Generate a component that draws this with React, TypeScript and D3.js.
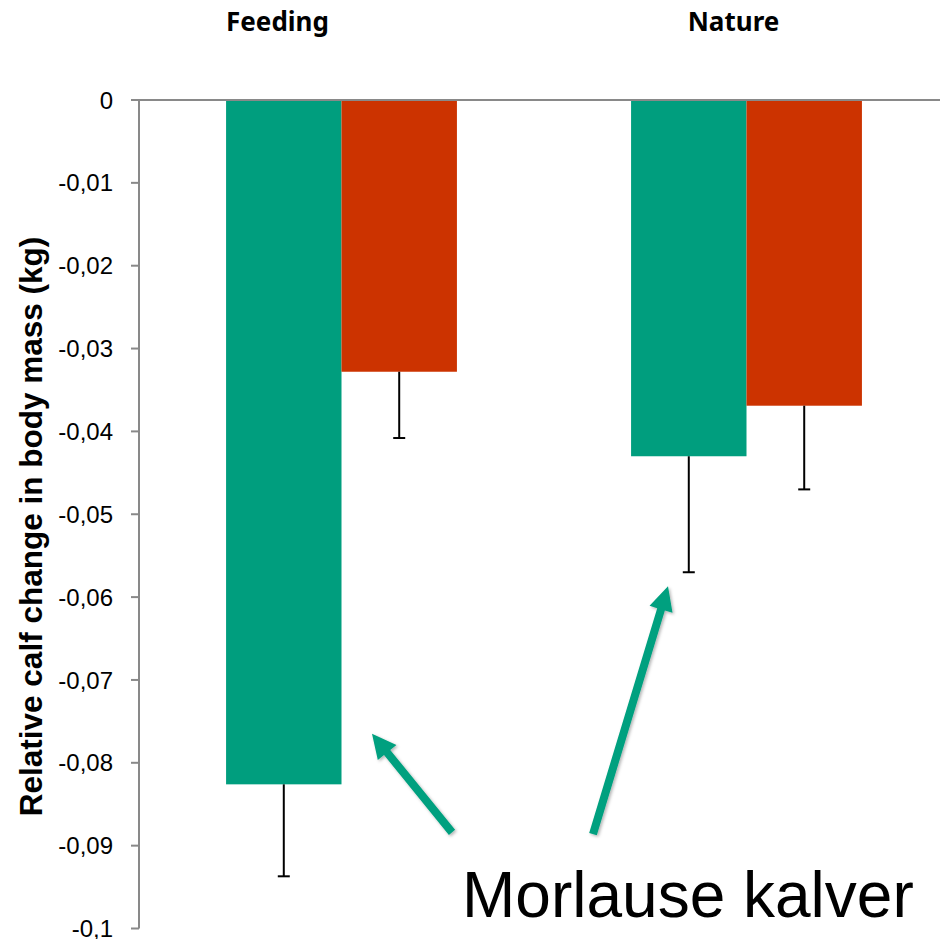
import React, { useEffect, useRef } from 'react';
import * as d3 from 'd3';

const categories = ['Feeding', 'Nature'];
const seriesNames = ['Morlause', 'Kontroll'];
const seriesColors = ['#009e7e', '#cc3300'];
// mean change per category, one array per series
const morlauseValues = [-0.0826, -0.043];
const kontrollValues = [-0.0328, -0.0369];
// lower error (one-sided, downward)
const morlauseErrors = [0.0111, 0.014];
const kontrollErrors = [0.008, 0.0101];
const yTicks = [0, -0.01, -0.02, -0.03, -0.04, -0.05, -0.06, -0.07, -0.08, -0.09, -0.1];
const yTitle = 'Relative calf change in body mass (kg)';
const noteText = 'Morlause kalver';

const W = 940;
const H = 939;

const App: React.FC = () => {
  const svgRef = useRef<SVGSVGElement>(null);

  useEffect(() => {
    if (!svgRef.current) return;
    const svg = d3.select(svgRef.current);
    svg.selectAll('*').remove();

    const left = 139;
    const top = 100;
    const bottom = 928.5;

    const y = d3.scaleLinear().domain([0, -0.1]).range([top, bottom]);

    const x0 = d3
      .scaleBand<string>()
      .domain(categories)
      .range([left, 949])
      .paddingInner(0.43)
      .paddingOuter(0.215);

    const x1 = d3
      .scaleBand<string>()
      .domain(seriesNames)
      .range([0, x0.bandwidth()]);

    const rows = categories.map((c, i) => ({
      cat: c,
      vals: [
        { s: seriesNames[0], v: morlauseValues[i], e: morlauseErrors[i], color: seriesColors[0] },
        { s: seriesNames[1], v: kontrollValues[i], e: kontrollErrors[i], color: seriesColors[1] }
      ]
    }));

    const defs = svg.append('defs');
    const f = defs.append('filter').attr('id', 'shadow').attr('x', '-20%').attr('y', '-20%').attr('width', '140%').attr('height', '140%');
    f.append('feDropShadow')
      .attr('dx', 1.5)
      .attr('dy', 1.5)
      .attr('stdDeviation', 1.5)
      .attr('flood-color', '#000')
      .attr('flood-opacity', 0.3);

    // bars
    const groups = svg
      .selectAll('.grp')
      .data(rows)
      .enter()
      .append('g')
      .attr('class', 'grp')
      .attr('transform', d => `translate(${x0(d.cat)},0)`);

    groups
      .selectAll('rect')
      .data(d => d.vals)
      .enter()
      .append('rect')
      .attr('x', d => x1(d.s)!)
      .attr('y', y(0))
      .attr('width', x1.bandwidth())
      .attr('height', d => y(d.v) - y(0))
      .attr('fill', d => d.color);

    // error bars
    const eb = groups
      .selectAll('.err')
      .data(d => d.vals)
      .enter()
      .append('g')
      .attr('class', 'err')
      .attr('stroke', '#000')
      .attr('stroke-width', 2);

    eb.append('line')
      .attr('x1', d => x1(d.s)! + x1.bandwidth() / 2)
      .attr('x2', d => x1(d.s)! + x1.bandwidth() / 2)
      .attr('y1', d => y(d.v))
      .attr('y2', d => y(d.v - d.e));

    eb.append('line')
      .attr('x1', d => x1(d.s)! + x1.bandwidth() / 2 - 6)
      .attr('x2', d => x1(d.s)! + x1.bandwidth() / 2 + 6)
      .attr('y1', d => y(d.v - d.e))
      .attr('y2', d => y(d.v - d.e));

    // axes
    const axisColor = '#898989';
    svg.append('line')
      .attr('x1', left).attr('x2', left)
      .attr('y1', y(0)).attr('y2', y(-0.1))
      .attr('stroke', axisColor).attr('stroke-width', 2);
    svg.append('line')
      .attr('x1', left - 8).attr('x2', W)
      .attr('y1', y(0)).attr('y2', y(0))
      .attr('stroke', axisColor).attr('stroke-width', 2);

    const tk = svg.append('g');
    tk.selectAll('line')
      .data(yTicks)
      .enter()
      .append('line')
      .attr('x1', left - 8).attr('x2', left)
      .attr('y1', d => y(d)).attr('y2', d => y(d))
      .attr('stroke', axisColor).attr('stroke-width', 2);

    tk.selectAll('text')
      .data(yTicks)
      .enter()
      .append('text')
      .attr('x', left - 26)
      .attr('y', d => y(d))
      .attr('dy', '0.36em')
      .attr('text-anchor', 'end')
      .style('font-family', 'Liberation Sans, Arial, sans-serif')
      .style('font-size', '24px')
      .style('fill', '#000')
      .text(d => (d === 0 ? '0' : d3.format('.2~f')(d).replace('.', ',').replace('\u2212', '-')));

    // y title
    svg.append('text')
      .attr('transform', `translate(42,${(245 + 808) / 2}) rotate(-90)`)
      .attr('text-anchor', 'middle')
      .style('font-family', 'Liberation Sans, Arial, sans-serif')
      .style('font-weight', 'bold')
      .style('font-size', '31.5px')
      .style('fill', '#000')
      .text(yTitle);

    // category labels at top
    const labelOffset = [-64, -13];
    svg.selectAll('.cat')
      .data(categories)
      .enter()
      .append('text')
      .attr('class', 'cat')
      .attr('x', (d, i) => x0(d)! + x0.bandwidth() / 2 + labelOffset[i])
      .attr('y', 31)
      .attr('text-anchor', 'middle')
      .style('font-family', 'Noto Sans, Open Sans, sans-serif')
      .style('font-weight', 'bold')
      .style('font-size', '26px')
      .style('fill', '#000')
      .text(d => d);

    // annotation arrows (tail -> tip), y in data units
    const arrows = [
      { x1: 452, y1: -0.0884, x2: 372, y2: -0.0765 },
      { x1: 593, y1: -0.0886, x2: 668, y2: -0.0587 }
    ];
    const arrowColor = '#03a07f';
    arrows.forEach(a => {
      const ax = a.x1, ay = y(a.y1), bx = a.x2, by = y(a.y2);
      const dx = bx - ax, dy = by - ay;
      const len = Math.sqrt(dx * dx + dy * dy);
      const ux = dx / len, uy = dy / len;
      const px = -uy, py = ux;
      const headLen = 24, headW = 12, lineW = 4;
      const hx = bx - ux * headLen, hy = by - uy * headLen;
      const pts = [
        [ax + px * lineW, ay + py * lineW],
        [hx + px * lineW, hy + py * lineW],
        [hx + px * headW, hy + py * headW],
        [bx, by],
        [hx - px * headW, hy - py * headW],
        [hx - px * lineW, hy - py * lineW],
        [ax - px * lineW, ay - py * lineW]
      ];
      svg.append('polygon')
        .attr('points', pts.map(p => p.join(',')).join(' '))
        .attr('fill', arrowColor)
        .attr('filter', 'url(#shadow)');
    });

    // note text
    svg.append('text')
      .attr('x', 462)
      .attr('y', 917)
      .style('font-family', 'Liberation Sans, Arial, sans-serif')
      .style('font-size', '64px')
      .style('fill', '#000')
      .text(noteText);
  }, []);

  return (
    <svg
      ref={svgRef}
      width={W}
      height={H}
      style={{ position: 'absolute', left: 0, top: 0, background: '#fff' }}
    />
  );
};

export default App;
